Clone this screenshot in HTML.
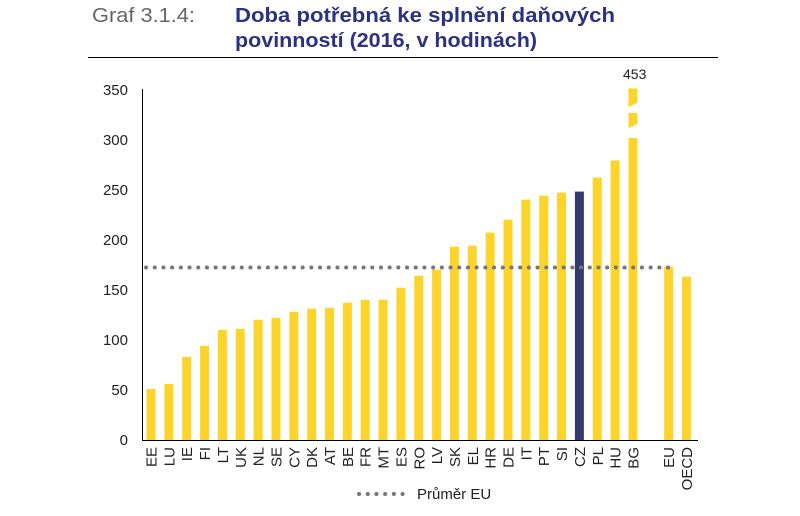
<!DOCTYPE html>
<html><head><meta charset="utf-8"><style>
body{margin:0;background:#fff;}
svg{display:block;font-family:"Liberation Sans",Arial,sans-serif;}
</style></head><body>
<svg width="800" height="516" viewBox="0 0 800 516" xmlns="http://www.w3.org/2000/svg">
<text x="92" y="22" font-size="20" fill="#666" textLength="103" lengthAdjust="spacingAndGlyphs">Graf 3.1.4:</text>
<text x="235" y="22" font-size="20" font-weight="bold" fill="#2e3180" textLength="380" lengthAdjust="spacingAndGlyphs">Doba potřebná ke splnění daňových</text>
<text x="235" y="47" font-size="20" font-weight="bold" fill="#2e3180" textLength="302" lengthAdjust="spacingAndGlyphs">povinností (2016, v hodinách)</text>
<line x1="88" y1="57.5" x2="718" y2="57.5" stroke="#000" stroke-width="1"/>
<g font-size="15" fill="#222" text-anchor="end">
<text x="128" y="445">0</text><text x="128" y="395">50</text><text x="128" y="345">100</text>
<text x="128" y="295">150</text><text x="128" y="245">200</text><text x="128" y="195">250</text>
<text x="128" y="145">300</text><text x="128" y="95">350</text>
</g>
<g id="bars"></g>
<line x1="142.5" y1="89" x2="142.5" y2="440" stroke="#000"/>
<line x1="142" y1="440.5" x2="698" y2="440.5" stroke="#000"/>
<line x1="146" y1="267.5" x2="672" y2="267.5" stroke="#777" stroke-width="4" stroke-dasharray="0.1 8.6" stroke-linecap="round"/>
<text x="623" y="79" font-size="14" fill="#222">453</text>
<g id="labels" font-size="15" fill="#222" text-anchor="end"></g>
<line x1="359" y1="494" x2="405" y2="494" stroke="#777" stroke-width="4" stroke-dasharray="0.1 8.6" stroke-linecap="round"/>
<text x="417" y="499" font-size="15" fill="#222">Průměr EU</text>
</svg>
<script>
var names=["EE","LU","IE","FI","LT","UK","NL","SE","CY","DK","AT","BE","FR","MT","ES","RO","LV","SK","EL","HR","DE","IT","PT","SI","CZ","PL","HU","BG","","EU","OECD"];
var vals=[51,56,83,94,110,111,120,122,128,131,132,137,140,140,152,164,170,193,194,207,220,240,244,247,248,262,279,351,0,173,163];
var ns="http://www.w3.org/2000/svg",b=document.getElementById("bars"),l=document.getElementById("labels");
for(var i=0;i<names.length;i++){
 if(!names[i])continue;
 var cx=151+17.85*i,h=vals[i]*1.0017;
 var r=document.createElementNS(ns,"rect");
 r.setAttribute("x",cx-4.5);r.setAttribute("width",9);r.setAttribute("y",440-h);r.setAttribute("height",h);
 r.setAttribute("fill",names[i]=="CZ"?"#323a6e":"#fdd52a");b.appendChild(r);
 var t=document.createElementNS(ns,"text");
 t.setAttribute("transform","translate("+(cx+5.5)+",447) rotate(-90)");t.textContent=names[i];l.appendChild(t);
}
var cx=633;
[[102,108,113,107],[123,129,138,132]].forEach(function(p){
 var pg=document.createElementNS(ns,"polygon");
 pg.setAttribute("points",(cx-6)+","+p[1]+" "+(cx+6)+","+p[0]+" "+(cx+6)+","+p[2]+" "+(cx-6)+","+(p[3]+6));
 pg.setAttribute("fill","#fff");b.appendChild(pg);
});
</script>
</body></html>
